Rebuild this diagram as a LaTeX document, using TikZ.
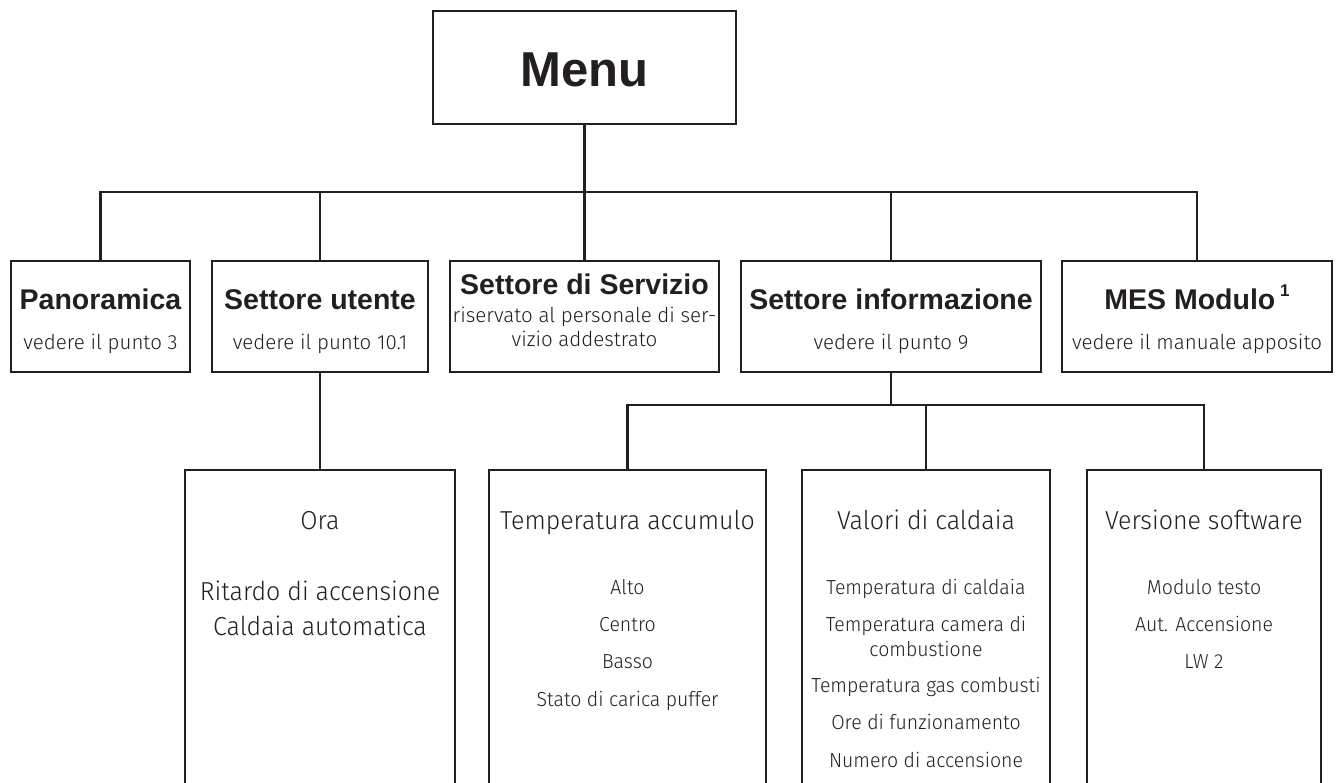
\documentclass[tikz,border=0pt]{standalone}
\usepackage{fontspec}
\setmainfont{Liberation Sans}
\newfontfamily\lite{Fira Sans Light}
\newfontfamily\litec{Fira Sans Light}[FakeStretch=0.96]
\definecolor{ink}{HTML}{231F20}
\begin{document}
\begin{tikzpicture}[x=1pt,y=-1pt,
  box/.style={draw=ink,line width=2.3pt,inner sep=0pt,line join=miter},
  conn/.style={draw=ink,line width=2.3pt},
  ttl/.style={text=ink,inner sep=0pt,anchor=base,font=\bfseries\fontsize{28.5}{32}\selectfont},
  sub/.style={text=ink,inner sep=0pt,anchor=base,font=\lite\fontsize{20.5}{24}\selectfont},
  btl/.style={text=ink,inner sep=0pt,anchor=base,font=\litec\fontsize{26}{30}\selectfont},
  itm/.style={text=ink,inner sep=0pt,anchor=base,font=\litec\fontsize{20.3}{26}\selectfont}]
\useasboundingbox (0,0) rectangle (1338,782);
\clip (0,0) rectangle (1338,782);
% top
\node[box,minimum width=303pt,minimum height=113pt] (menu) at (584.5,67.5) {};
\node[text=ink,inner sep=0pt,anchor=base,font=\bfseries\fontsize{49}{55}\selectfont] (menut) at (584.5,86) {Menu};
% second row boxes
\node[box,minimum width=179pt,minimum height=111pt] (pano) at (100.5,316.5) {};
\node[box,minimum width=216pt,minimum height=111pt] (user) at (320,316.5) {};
\node[box,minimum width=269pt,minimum height=111pt] (serv) at (584.5,316.5) {};
\node[box,minimum width=300pt,minimum height=111pt] (info) at (891,316.5) {};
\node[box,minimum width=270pt,minimum height=111pt] (mes) at (1197,316.5) {};
\node[ttl] (panot) at (100.5,309) {Panoramica};
\node[sub] (panos) at (100.5,349) {vedere il punto 3};
\node[ttl] (usert) at (320,309) {Settore utente};
\node[sub] (users) at (320,349) {vedere il punto 10.1};
\node[ttl] (servt) at (584.5,294) {Settore di Servizio};
\node[sub] (servs1) at (584.5,322) {riservato al personale di ser-};
\node[sub] (servs2) at (584.5,346) {vizio addestrato};
\node[ttl] (infot) at (891,309) {Settore informazione};
\node[sub] (infos) at (891,349) {vedere il punto 9};
\node[ttl] (mest) at (1197,309) {MES Modulo\,\raisebox{0.45em}{\fontsize{17}{17}\selectfont 1}};
\node[sub] (mess) at (1197,349) {vedere il manuale apposito};
% bottom boxes (open at the bottom edge)
\node[box,minimum width=270pt,minimum height=330pt] (ora) at (320,635) {};
\node[box,minimum width=277pt,minimum height=330pt] (temp) at (627.5,635) {};
\node[box,minimum width=248pt,minimum height=330pt] (val) at (926,635) {};
\node[box,minimum width=234pt,minimum height=330pt] (ver) at (1204,635) {};
% connectors
\coordinate (j1) at (584.5,192);
\draw[conn] (menu.south) -- (j1);
\foreach \n in {pano,user,serv,info,mes} \draw[conn] (\n.north) |- (j1);
\draw[conn] (user.south) -- (ora.north);
\coordinate (j2) at (891,405);
\draw[conn] (info.south) -- (j2);
\foreach \n in {temp,val,ver} \draw[conn] (\n.north) |- (j2);
% bottom texts
\node[btl] (orat) at (320,529) {Ora};
\node[btl] (ora1) at (320,600) {Ritardo di accensione};
\node[btl] (ora2) at (320,635) {Caldaia automatica};
\node[btl] (tempt) at (627.5,529) {Temperatura accumulo};
\node[itm] (temp1) at (627.5,594) {Alto};
\node[itm] (temp2) at (627.5,631) {Centro};
\node[itm] (temp3) at (627.5,668) {Basso};
\node[itm] (temp4) at (627.5,706) {Stato di carica puffer};
\node[btl] (valt) at (926,529) {Valori di caldaia};
\node[itm] (val1) at (926,594) {Temperatura di caldaia};
\node[itm] (val2a) at (926,631) {Temperatura camera di};
\node[itm] (val2b) at (926,656) {combustione};
\node[itm] (val3) at (926,692) {Temperatura gas combusti};
\node[itm] (val4) at (926,729) {Ore di funzionamento};
\node[itm] (val5) at (926,767) {Numero di accensione};
\node[btl] (vert) at (1204,529) {Versione software};
\node[itm] (ver1) at (1204,594) {Modulo testo};
\node[itm] (ver2) at (1204,631) {Aut. Accensione};
\node[itm] (ver3) at (1204,668) {LW 2};
\end{tikzpicture}
\end{document}
